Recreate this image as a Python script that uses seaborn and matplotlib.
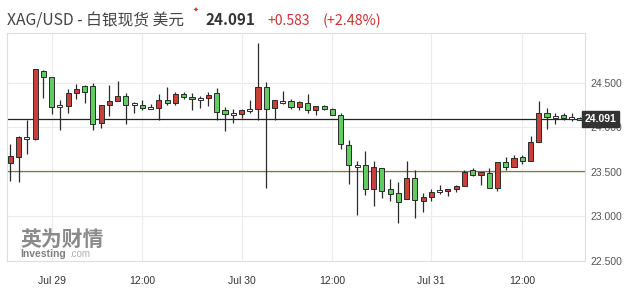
import numpy as np
import pandas as pd
import seaborn as sns
import matplotlib
matplotlib.use("Agg")
import matplotlib.pyplot as plt
import matplotlib.transforms as mtransforms

# ---------------- data ----------------
opens = [23.600, 23.667, 23.880, 23.868, 24.628, 24.561, 24.237, 24.240, 24.382, 24.464,
         24.464, 24.047, 24.244, 24.293, 24.352, 24.255, 24.251, 24.215, 24.215, 24.304,
         24.270, 24.378, 24.340, 24.315, 24.322, 24.389, 24.196, 24.150, 24.147, 24.190,
         24.203, 24.456, 24.210, 24.286, 24.296, 24.226, 24.270, 24.196, 24.237, 24.203,
         24.136, 23.801, 23.570, 23.573, 23.309, 23.540, 23.302, 23.265, 23.190, 23.432,
         23.175, 23.220, 23.285, 23.287, 23.310, 23.346, 23.517, 23.466, 23.488, 23.320,
         23.611, 23.555, 23.667, 23.618, 23.835, 24.159, 24.114, 24.132, 24.103, 24.105]
highs = [23.812, 23.900, 24.080, 24.655, 24.640, 24.561, 24.304, 24.427, 24.486, 24.470,
         24.494, 24.250, 24.475, 24.520, 24.382, 24.280, 24.304, 24.263, 24.374, 24.456,
         24.400, 24.393, 24.382, 24.352, 24.397, 24.438, 24.232, 24.203, 24.203, 24.307,
         24.941, 24.508, 24.300, 24.411, 24.315, 24.290, 24.374, 24.240, 24.245, 24.214,
         24.159, 23.853, 23.626, 23.737, 23.626, 23.540, 23.425, 23.388, 23.626, 23.525,
         23.265, 23.310, 23.354, 23.310, 23.350, 23.525, 23.544, 23.500, 23.544, 23.611,
         23.667, 23.685, 23.693, 23.905, 24.296, 24.215, 24.165, 24.159, 24.159, 24.120]
lows = [23.394, 23.383, 23.704, 23.862, 24.333, 24.147, 23.964, 24.159, 24.315, 24.270,
        23.964, 23.990, 24.121, 24.290, 24.040, 24.159, 24.196, 24.200, 24.084, 24.250,
        24.250, 24.315, 24.196, 24.215, 24.240, 24.080, 23.953, 24.047, 24.098, 24.165,
        24.084, 23.320, 24.084, 24.260, 24.203, 24.196, 24.159, 24.136, 24.196, 24.132,
        23.756, 23.358, 23.015, 23.242, 23.115, 23.209, 23.171, 22.930, 23.190, 22.978,
        23.048, 23.175, 23.254, 23.227, 23.276, 23.340, 23.450, 23.354, 23.320, 23.283,
        23.517, 23.555, 23.589, 23.618, 23.835, 23.980, 24.036, 24.080, 24.065, 24.085]
closes = [23.674, 23.890, 23.880, 24.650, 24.561, 24.232, 24.237, 24.382, 24.434, 24.400,
          24.036, 24.248, 24.293, 24.352, 24.248, 24.255, 24.215, 24.215, 24.304, 24.266,
          24.378, 24.340, 24.315, 24.315, 24.363, 24.170, 24.147, 24.150, 24.196, 24.190,
          24.449, 24.203, 24.300, 24.286, 24.226, 24.282, 24.196, 24.237, 24.203, 24.140,
          23.812, 23.573, 23.570, 23.309, 23.551, 23.287, 23.249, 23.164, 23.432, 23.182,
          23.220, 23.276, 23.285, 23.310, 23.346, 23.500, 23.466, 23.495, 23.320, 23.611,
          23.555, 23.651, 23.618, 23.838, 24.159, 24.114, 24.114, 24.103, 24.103, 24.091]

tick_candles = [5, 16, 28, 39, 51, 62]
tick_labels = ["Jul 29", "12:00", "Jul 30", "12:00", "Jul 31", "12:00"]
price_ticks = [22.5, 23.0, 23.5, 24.0, 24.5]

symbol = "XAG/USD - 白银现货 美元"
last_price = 24.091
prev_close = 23.508
change = 0.583
change_pct = 2.48

# ---------------- styling ----------------
sns.set_theme(style="white")
plt.rcParams["font.family"] = ["Liberation Sans", "DejaVu Sans"]

df = pd.DataFrame({"open": opens, "high": highs, "low": lows, "close": closes})
df["idx"] = np.arange(len(df))

UP = "#c8403a"
DOWN = "#62cc62"
EDGE = "#2a2a2a"

fig = plt.figure(figsize=(6.34, 3.0), dpi=100)
W, H = 634, 300
ax = fig.add_axes([7 / W, 39 / H, (585 - 7) / W, (261 - 33.3) / H])

# grid
for yv in price_ticks:
    ax.axhline(yv, color="#ececec", lw=0.8, zorder=0)
for xv in tick_candles:
    ax.axvline(xv, color="#ececec", lw=0.8, zorder=0)

# reference lines
ax.axhline(prev_close, color="#a0665c", lw=0.9, zorder=1)
ax.axhline(last_price, color="#222222", lw=0.9, zorder=1)

# wicks
ax.vlines(df["idx"], df["low"], df["high"], color=EDGE, lw=0.9, zorder=2)

# bodies
diff = df["close"] - df["open"]
colors = np.where(diff > 0, UP, np.where(diff < 0, DOWN, "#f4f4f4"))
heights = np.maximum(np.abs(diff), 0.022)
bottoms = np.minimum(df["open"], df["close"]) - np.where(np.abs(diff) < 0.022, 0.011, 0)
ax.bar(df["idx"], heights, bottom=bottoms, width=0.62, color=colors,
       edgecolor=EDGE, linewidth=0.7, zorder=3)

ax.set_xlim(-0.4, 69.6)
ax.set_ylim(22.5, 25.053)

# axes ticks
ax.set_xticks(tick_candles)
ax.set_xticklabels(tick_labels, fontsize=7.5, color="#333333")
ax.tick_params(axis="x", length=0, pad=11)
ax.yaxis.tick_right()
ax.set_yticks(price_ticks)
ax.set_yticklabels([f"{v:.3f}" for v in price_ticks], fontsize=7.5, color="#555555")
ax.tick_params(axis="y", length=0, pad=4)
for s in ax.spines.values():
    s.set_color("#dedede")
    s.set_linewidth(0.8)

# last price tag
trans = mtransforms.blended_transform_factory(ax.transAxes, ax.transData)
ax.text(1.0, last_price, f"{last_price:.3f}", transform=trans, ha="left", va="center",
        fontsize=7.5, fontweight="bold", color="white", zorder=10, clip_on=False,
        bbox=dict(boxstyle="square,pad=0.25", fc="#333333", ec="#333333"))

# header
cjk = ["Noto Sans CJK SC", "DejaVu Sans"]
base_y = 1 - 25 / H
fig.text(7 / W, base_y, symbol, family=cjk, fontsize=11.3, color="#444444", va="baseline")
fig.text(196 / W, 1 - 12 / H, "✦", family=["DejaVu Sans"], fontsize=5, color="#d03030", ha="center", va="baseline")
fig.text(205 / W, base_y, f"{last_price:.3f}", family=cjk, fontsize=11, fontweight="bold", color="#333333", va="baseline")
fig.text(267 / W, base_y, f"+{change:.3f}", family=cjk, fontsize=10, color="#cc3333", va="baseline")
fig.text(323 / W, base_y, f"(+{change_pct:.2f}%)", family=cjk, fontsize=10.3, color="#cc3333", va="baseline")

# watermark
fig.text(20 / W, 1 - 246 / H, "英为财情", family=cjk, fontsize=15, fontweight="bold", color="#8a8a8a", va="baseline")
fig.text(20 / W, 1 - 257 / H, "Investing", fontsize=7.5, fontweight="bold", color="#808080", va="baseline")
fig.text(69 / W, 1 - 257 / H, ".com", fontsize=7, color="#b0b0b0", va="baseline")

fig.savefig("out.png", dpi=100)
